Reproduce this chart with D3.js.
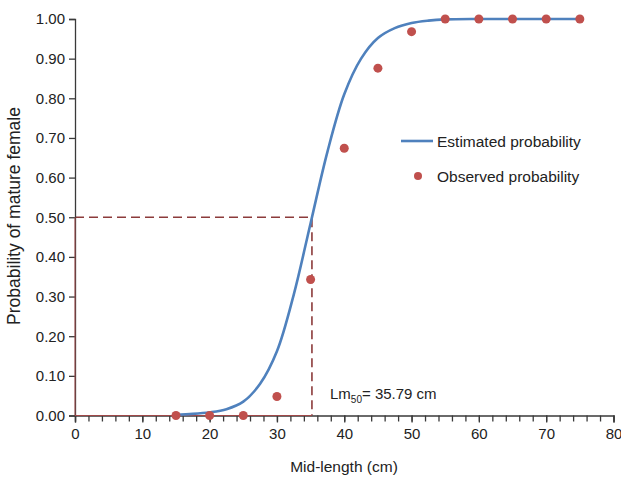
<!DOCTYPE html>
<html>
  <head>
    <title>Length at maturity</title>
    <script src="https://d3js.org/d3.v7.min.js"></script>
    <style>
      body { margin: 0; background: #fff; }
      text { font-family: "Liberation Sans", Arial, sans-serif; fill: #222; }
    </style>
  </head>
  <body>
    <svg id="chart" width="621" height="482"></svg>
  <script type="text/javascript">
    // observed proportion of mature females per length class
    var obsLength = [15, 20, 25, 30, 35, 40, 45, 50, 55, 60, 65, 70, 75];
    var obsProb = [0, 0, 0, 0.048, 0.343, 0.674, 0.876, 0.968, 1, 1, 1, 1, 1];

    // estimated (fitted) curve
    var estLength = [15, 17.5, 20, 22.5, 25, 27.5, 30, 32.5, 35, 37.5, 40, 42.5, 45, 47.5, 50, 52.5, 55, 60, 65, 70, 75];
    var estProb = [0.002, 0.004, 0.008, 0.016, 0.035, 0.08, 0.162, 0.305, 0.485, 0.665, 0.81, 0.9, 0.952, 0.977, 0.99, 0.996, 0.999, 1, 1, 1, 1];

    var xTicks = [0, 10, 20, 30, 40, 50, 60, 70, 80];
    var yTicks = [0, 0.1, 0.2, 0.3, 0.4, 0.5, 0.6, 0.7, 0.8, 0.9, 1.0];
    var guideX = 35.2;     // where the dashed guide sits in the picture
    var guideY = 0.5;
    var lmText = "35.79 cm";

    var svg = d3.select("#chart");
    var x = d3.scaleLinear().domain([0, 80]).range([75, 613.5]);
    var y = d3.scaleLinear().domain([0, 1]).range([415.5, 19]);

    var axisColor = "#3a3a3a";
    var dashColor = "#8c3b3b";

    // dashed guide for Lm50
    svg.append("path")
      .attr("d", d3.line()([[x(0), y(guideY)], [x(guideX), y(guideY)], [x(guideX), y(0)]]))
      .attr("fill", "none")
      .attr("stroke", dashColor)
      .attr("stroke-width", 1.6)
      .attr("stroke-dasharray", "9,5");

    // y axis
    var yAxis = svg.append("g")
      .attr("transform", "translate(" + x(0) + ",0)")
      .call(d3.axisLeft(y).tickValues(yTicks).tickSize(6).tickPadding(4).tickFormat(d3.format(".2f")));
    // x axis with minor ticks
    var xMinor = svg.append("g")
      .attr("transform", "translate(0," + y(0) + ")")
      .call(d3.axisBottom(x).tickValues(d3.range(0, 81, 2)).tickSize(6).tickFormat(""));
    xMinor.select(".domain").remove();
    var xAxis = svg.append("g")
      .attr("transform", "translate(0," + y(0) + ")")
      .call(d3.axisBottom(x).tickValues(xTicks).tickSize(7).tickPadding(6));

    [yAxis, xAxis, xMinor].forEach(function (g) {
      g.selectAll("path, line").attr("stroke", axisColor).attr("stroke-width", 1.3);
      g.selectAll("text").style("font-size", "15px").attr("fill", "#222");
    });

    // thin red trace along the axes (part of the guide series)
    svg.append("path")
      .attr("d", d3.line()([[x(0), y(guideY)], [x(0), y(0)], [x(guideX), y(0)]]))
      .attr("fill", "none")
      .attr("stroke", "#a04848")
      .attr("stroke-width", 1);

    // estimated curve
    var estData = estLength.map(function (d, i) { return [d, estProb[i]]; });
    var line = d3.line()
      .x(function (d) { return x(d[0]); })
      .y(function (d) { return y(d[1]); })
      .curve(d3.curveCatmullRom.alpha(0.5));
    svg.append("path")
      .datum(estData)
      .attr("d", line)
      .attr("fill", "none")
      .attr("stroke", "#4f81bd")
      .attr("stroke-width", 2.6);

    // observed points
    svg.selectAll("circle.obs")
      .data(obsLength)
      .enter()
      .append("circle")
      .attr("class", "obs")
      .attr("cx", function (d) { return x(d); })
      .attr("cy", function (d, i) { return y(obsProb[i]); })
      .attr("r", 4.5)
      .attr("fill", "#c0504d");

    // legend
    svg.append("line")
      .attr("x1", 401).attr("x2", 433).attr("y1", 141).attr("y2", 141)
      .attr("stroke", "#4f81bd").attr("stroke-width", 2.6);
    svg.append("text").attr("x", 437).attr("y", 146.5)
      .style("font-size", "15.5px").text("Estimated probability");
    svg.append("circle").attr("cx", 418).attr("cy", 176).attr("r", 4)
      .attr("fill", "#c0504d");
    svg.append("text").attr("x", 437).attr("y", 181.5)
      .style("font-size", "15.5px").text("Observed probability");

    // Lm50 label
    var lm = svg.append("text").attr("x", 330).attr("y", 399).style("font-size", "15px");
    lm.append("tspan").text("Lm");
    lm.append("tspan").attr("dy", 4).style("font-size", "10px").text("50");
    lm.append("tspan").attr("dy", -4).text("= " + lmText);

    // axis titles
    svg.append("text")
      .attr("x", 344).attr("y", 472)
      .attr("text-anchor", "middle")
      .style("font-size", "15.5px")
      .text("Mid-length (cm)");
    svg.append("text")
      .attr("transform", "translate(20,216) rotate(-90)")
      .attr("text-anchor", "middle")
      .style("font-size", "17.5px")
      .text("Probability of mature female");
  </script>
  </body>
</html>
